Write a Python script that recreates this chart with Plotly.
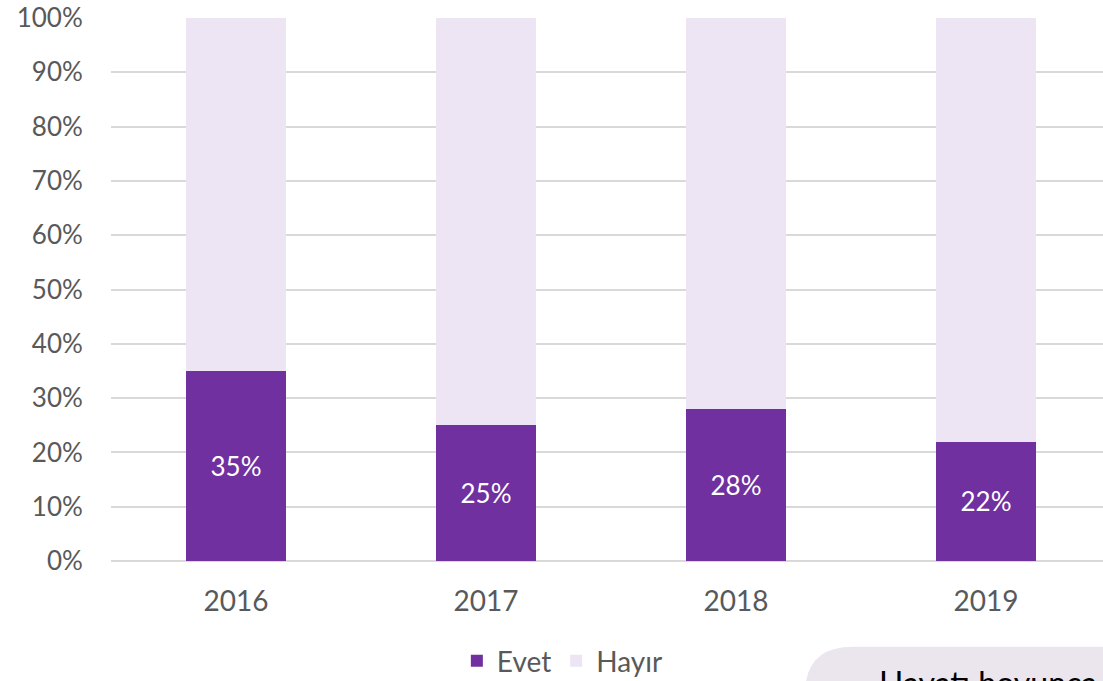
import plotly.graph_objects as go

years = ["2016", "2017", "2018", "2019"]
evet = [35, 25, 28, 22]
hayir = [100 - v for v in evet]
y_ticks = list(range(0, 101, 10))

FONT = "Lato"
GREY = "#595959"

fig = go.Figure()
fig.add_trace(go.Bar(
    x=years, y=evet, name="Evet",
    marker=dict(color="#7030a0", line=dict(width=0)),
    text=[f"{v}%" for v in evet], textposition="inside",
    insidetextanchor="middle",
    textfont=dict(family=FONT, size=26, color="white"),
))
fig.add_trace(go.Bar(
    x=years, y=hayir, name="Hayır",
    marker=dict(color="#ede5f3", line=dict(width=0)),
    hoverinfo="skip",
))

fig.update_layout(
    barmode="stack",
    bargap=0.6,
    width=1103, height=681,
    margin=dict(l=111, r=0, t=18, b=120, autoexpand=False),
    paper_bgcolor="white", plot_bgcolor="white",
    font=dict(family=FONT, color=GREY),
    showlegend=True,
    legend=dict(
        orientation="h", x=0.455, xanchor="center", y=-0.138, yanchor="top",
        font=dict(family=FONT, size=28, color=GREY),
        itemwidth=30, traceorder="normal",
    ),
    xaxis=dict(
        type="category", range=[-0.5, 3.468], automargin=False,
        showgrid=False, showline=False,
        ticks="outside", ticklen=15, tickcolor="rgba(0,0,0,0)",
        tickfont=dict(family=FONT, size=28, color=GREY),
    ),
    yaxis=dict(
        range=[0, 100], tickvals=y_ticks, automargin=False,
        ticktext=[f"{v}%" for v in y_ticks],
        showgrid=True, gridcolor="#d9d9d9", gridwidth=2,
        zeroline=True, zerolinecolor="#d9d9d9", zerolinewidth=2,
        ticks="outside", ticklen=22, tickcolor="rgba(0,0,0,0)",
        tickfont=dict(family=FONT, size=26, color=GREY),
    ),
)

# Rounded callout box in the lower-right corner
fig.add_shape(
    type="path", xref="paper", yref="paper",
    path="M 0.700,-0.23 Q 0.704,-0.158 0.748,-0.158 L 1.01,-0.158 L 1.01,-0.3 L 0.700,-0.3 Z",
    fillcolor="#ebe6ee", line=dict(width=0), layer="above",
)
fig.add_annotation(
    xref="paper", yref="paper", x=0.772, y=-0.185,
    xanchor="left", yanchor="top", showarrow=False,
    text="Hayatı boyunca", font=dict(family=FONT, size=32, color="black"),
)

fig.write_html("out.html")
